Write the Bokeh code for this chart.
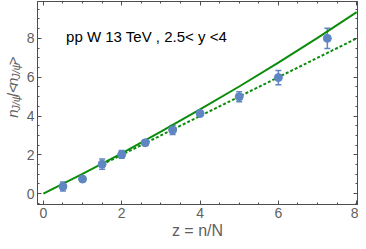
import math
import numpy as np
from bokeh.plotting import figure
from bokeh.layouts import row
from bokeh.models import (ColumnDataSource, Whisker, TeeHead, Label, LinearAxis,
                          Range1d, FixedTicker, CustomJSTickFormatter)
from bokeh.embed import file_html
from bokeh.resources import INLINE

# ---- data ----
z_vals = [0.5, 1.0, 1.5, 2.0, 2.6, 3.3, 4.0, 5.0, 6.0, 7.25]
ratio_vals = [0.37, 0.75, 1.52, 2.02, 2.62, 3.28, 4.13, 4.99, 5.98, 8.0]
ratio_err = [0.23, 0.10, 0.27, 0.20, 0.13, 0.23, 0.15, 0.26, 0.37, 0.52]

solid_z = [0, 1, 2, 3, 4, 5, 6, 7, 8]
solid_vals = [0.0, 1.02, 2.08, 3.19, 4.34, 5.52, 6.75, 8.03, 9.35]

dashed_z = [1.5, 8.0]
dashed_vals = [1.5, 8.0]

x_ticks = [0, 2, 4, 6, 8]
y_ticks = [0, 2, 4, 6, 8]
title_text = "pp W 13 TeV , 2.5< y <4"
x_label = "z = n/N"

# ---- style ----
FONT = "Liberation Sans"
FRAME = "#4d4d4d"
TICKLAB = "#5f5f5f"
GREEN = "#0c8c0c"
BLUE = "#5f86c2"

H = 241
LABEL_W = 23

X0, X1 = -0.15, 8.02
Y0, Y1 = -0.56, 9.9

p = figure(width=358 - LABEL_W, height=H, output_backend="svg",
           toolbar_location=None,
           x_range=Range1d(X0, X1), y_range=Range1d(Y0, Y1),
           x_axis_location=None, y_axis_location=None,
           min_border_left=37 - LABEL_W, min_border_right=1, min_border_top=1,
           min_border_bottom=37)
p.grid.visible = False
p.outline_line_color = FRAME
p.outline_line_width = 1
p.background_fill_color = "white"
p.border_fill_color = "white"

minor_x = list(np.arange(-0.5, 8.51, 0.5))
minor_y = list(np.arange(-0.5, 10.01, 0.5))
blank = CustomJSTickFormatter(code="return ''")


def style_axis(ax, labels=True):
    ax.axis_line_color = FRAME
    ax.major_tick_line_color = FRAME
    ax.minor_tick_line_color = FRAME
    ax.major_tick_in = 4
    ax.major_tick_out = 0
    ax.minor_tick_in = 2
    ax.minor_tick_out = 0
    if labels:
        ax.major_label_text_font = FONT
        ax.major_label_text_font_size = "14px"
        ax.major_label_text_color = TICKLAB
        ax.major_label_standoff = 3
    else:
        ax.formatter = blank
        ax.major_label_text_font_size = "1px"
        ax.major_label_standoff = 0


xb = LinearAxis(ticker=FixedTicker(ticks=x_ticks, minor_ticks=minor_x))
style_axis(xb)
xb.axis_label = x_label
xb.axis_label_text_font = FONT
xb.axis_label_text_font_size = "16px"
xb.axis_label_text_font_style = "normal"
xb.axis_label_text_color = TICKLAB
xb.axis_label_standoff = 1
p.add_layout(xb, "below")

xt = LinearAxis(ticker=FixedTicker(ticks=x_ticks, minor_ticks=minor_x))
style_axis(xt, labels=False)
p.add_layout(xt, "above")

yl = LinearAxis(ticker=FixedTicker(ticks=y_ticks, minor_ticks=minor_y))
style_axis(yl)
p.add_layout(yl, "left")

yr = LinearAxis(ticker=FixedTicker(ticks=y_ticks, minor_ticks=minor_y))
style_axis(yr, labels=False)
p.add_layout(yr, "right")

# ---- curves ----
p.line(dashed_z, dashed_vals, line_color=GREEN, line_width=2, line_dash="3 2")
p.line(solid_z, solid_vals, line_color=GREEN, line_width=2)

# ---- data points with error bars ----
src = ColumnDataSource(dict(
    z=z_vals, r=ratio_vals,
    lo=[v - e for v, e in zip(ratio_vals, ratio_err)],
    hi=[v + e for v, e in zip(ratio_vals, ratio_err)],
))
wh = Whisker(source=src, base="z", lower="lo", upper="hi",
             line_color=BLUE, line_width=1.5,
             upper_head=TeeHead(size=6, line_color=BLUE, line_width=1.5),
             lower_head=TeeHead(size=6, line_color=BLUE, line_width=1.5))
p.add_layout(wh)
p.scatter("z", "r", source=src, size=8, fill_color=BLUE, line_color=BLUE)

# ---- in-plot title ----
p.add_layout(Label(x=0.58, y=8.1, text=title_text, text_font=FONT,
                   text_font_size="15px", text_color="black",
                   text_baseline="alphabetic", text_align="left"))

# ---- rotated y-axis label in its own narrow panel (pixel coordinates) ----
lab = figure(width=LABEL_W, height=H, output_backend="svg", toolbar_location=None,
             x_range=Range1d(0, LABEL_W), y_range=Range1d(0, H),
             x_axis_location=None, y_axis_location=None,
             min_border_left=0, min_border_right=0, min_border_top=0,
             min_border_bottom=0)
lab.grid.visible = False
lab.outline_line_color = None
lab.background_fill_color = "white"
lab.border_fill_color = "white"

pieces = [
    ("n", 15, "italic", 0, 8.3),
    ("J/ψ", 11, "italic", 3, 16.3),
    ("/<", 15, "normal", 0, 13.0),
    ("n", 15, "italic", 0, 8.3),
    ("J/ψ", 11, "italic", 3, 16.3),
    (">", 15, "normal", 0, 8.8),
]
pos = H - 138            # bottom end of the label (pixels from bottom)
for txt, size, style, sub, adv in pieces:
    lab.add_layout(Label(x=12 + sub, y=pos,
                         text=txt, angle=math.pi / 2, text_font=FONT,
                         text_font_size=f"{size}px", text_font_style=style,
                         text_color=TICKLAB, text_align="left",
                         text_baseline="alphabetic"))
    pos += adv

layout = row(lab, p)
open("out.html", "w").write(file_html(layout, INLINE))
